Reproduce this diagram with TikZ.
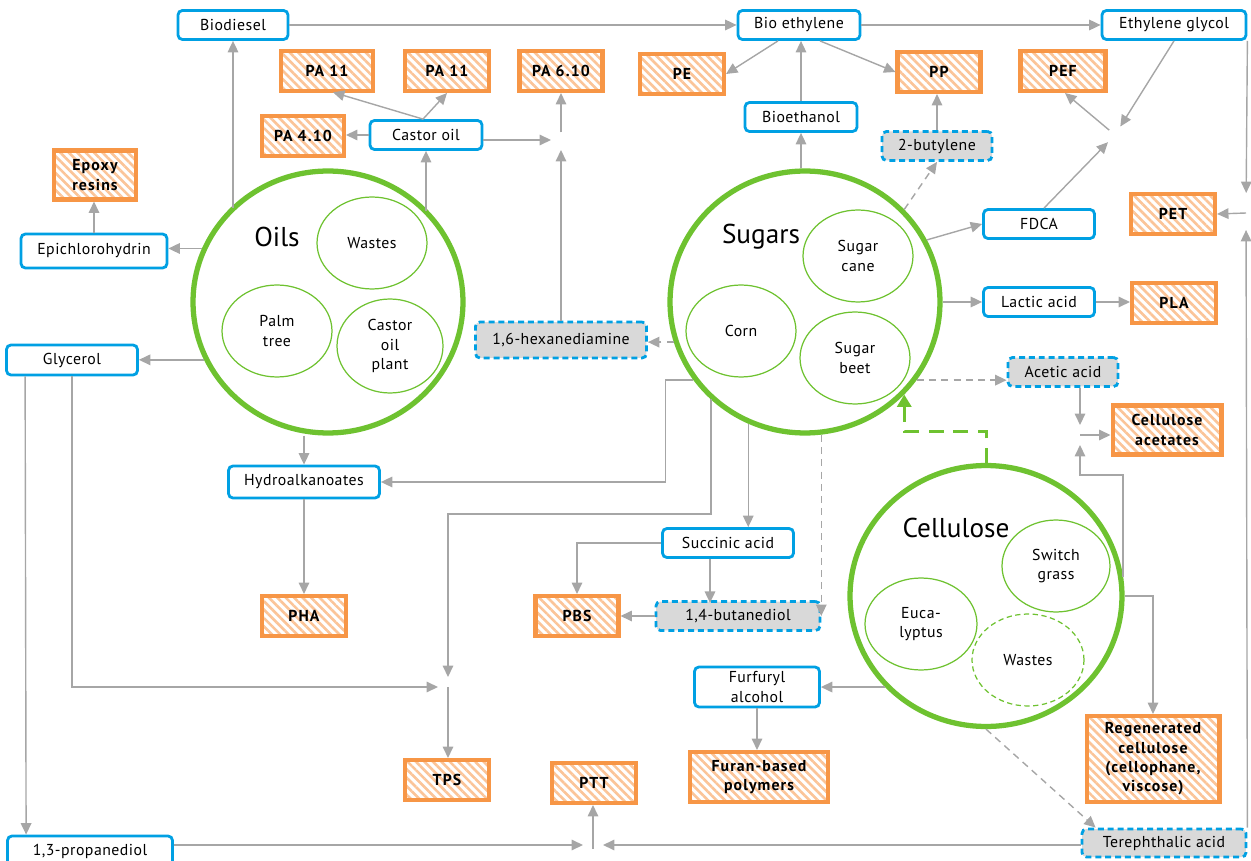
\documentclass[tikz,border=0pt]{standalone}
\usepackage{fontspec}
\setmainfont{PT Sans}
\usetikzlibrary{arrows.meta}
\usetikzlibrary{calc}
\usetikzlibrary{shapes.geometric}
\usetikzlibrary{patterns.meta}
\definecolor{boxblue}{RGB}{0,160,227}
\definecolor{boxorange}{RGB}{247,150,70}
\definecolor{hatchorange}{RGB}{251,196,152}
\definecolor{srcgreen}{RGB}{110,194,48}
\definecolor{flowgray}{RGB}{166,166,166}
\definecolor{fillgray}{RGB}{217,217,217}
\newcommand{\boxfont}{\fontsize{9}{11}\selectfont\addfontfeature{LetterSpace=3}}
\newcommand{\polyfont}{\fontsize{9}{11}\selectfont\bfseries\addfontfeature{LetterSpace=7}}
\newcommand{\srcfont}{\fontsize{15.5}{18}\selectfont}
\tikzset{
% Box styles: intermediates (blue), uncertain ones (dashed) and polymers (hatched orange)
blue box/.style={draw=boxblue,line width=1.6pt,rounded corners=2.5pt,fill=white,minimum height=0.58cm,inner sep=1pt,align=center,font=\boxfont},
dashed box/.style={blue box,fill=fillgray,dash pattern=on 3.4pt off 2.2pt},
orange box/.style={draw=boxorange,line width=2.3pt,pattern={Lines[angle=-45,distance=3.4pt,line width=1.5pt]},pattern color=hatchorange,minimum height=0.8cm,inner sep=1pt,align=center,font=\polyfont},
% Raw materials: big rings and the crops inside them
source ring/.style={ellipse,draw=srcgreen,line width=3pt,inner sep=0,minimum width=5.4cm,minimum height=5.24cm},
crop oval/.style={ellipse,draw=srcgreen,line width=0.7pt,inner sep=0,minimum width=2.2cm,minimum height=1.84cm,align=center,font=\boxfont},
source label/.style={font=\srcfont,inner sep=1pt},
% Connectors
flow/.style={draw=flowgray,line width=0.8pt,-{Triangle[length=6.5pt,width=6pt]}},
dashed flow/.style={dash pattern=on 4pt off 3pt},
green flow/.style={draw=srcgreen,line width=1.7pt,dash pattern=on 8.5pt off 5.5pt,-{Triangle[length=7pt,width=8pt]}},
to junction/.style={shorten >=0.2cm},
from junction/.style={shorten <=0.15cm}
}

\begin{document}
\begin{tikzpicture}[x=0.02cm,y=-0.02cm]
		\useasboundingbox(0,0)rectangle(1251,861);
		% Sources
		\node(oils)[source ring]at(328,302){};
		\node(sugars)[source ring]at(805,302){};
		\node(cellulose)[source ring,minimum width=5.44cm,minimum height=5.22cm]at(986,596){};
		\node(oilslbl)[source label]at(277,237){Oils};
		\node(sugarslbl)[source label]at(761,237){Sugars};
		\node(celllbl)[source label]at(956,528){Cellulose};
		\node(owastes)[crop oval]at(372,243){Wastes};
		\node(palm)[crop oval]at(277,331){Palm\\tree};
		\node(castorplant)[crop oval,minimum width=2.12cm,minimum height=1.88cm]at(390,346){Castor\\oil\\plant};
		\node(cane)[crop oval]at(858,256){Sugar\\cane};
		\node(corn)[crop oval]at(741,331){Corn};
		\node(beet)[crop oval]at(855,358){Sugar\\beet};
		\node(switch)[crop oval,minimum width=2.16cm]at(1056,566){Switch\\grass};
		\node(euca)[crop oval,minimum width=2.24cm]at(921,624){Euca-\\lyptus};
		\node(cwastes)[crop oval,minimum width=2.24cm,dash pattern=on 3pt off 2pt]at(1028,660){Wastes};
		% Intermediates
		\node(biodiesel)[blue box,minimum width=2.2cm]at(233,25){Biodiesel};
		\node(bioeth)[blue box,minimum width=2.44cm]at(799,25){Bio ethylene};
		\node(eglycol)[blue box,minimum width=2.88cm]at(1174,25){Ethylene glycol};
		\node(castor)[blue box,minimum width=2.24cm]at(426,135){Castor oil};
		\node(bioethanol)[blue box,minimum width=2.24cm]at(801,117){Bioethanol};
		\node(but2)[dashed box,minimum width=2.2cm]at(937,146){2-butylene};
		\node(epi)[blue box,minimum width=2.92cm,minimum height=0.68cm]at(94,251){Epichlorohydrin};
		\node(fdca)[blue box,minimum width=2.22cm]at(1039,224){FDCA};
		\node(lactic)[blue box,minimum width=2.22cm]at(1039,302){Lactic acid};
		\node(glycerol)[blue box,minimum width=2.62cm,minimum height=0.6cm]at(72,360){Glycerol};
		\node(hexa)[dashed box,minimum width=3.42cm,minimum height=0.72cm]at(561,340){1,6-hexanediamine};
		\node(acetic)[dashed box,minimum width=2.2cm]at(1063,372){Acetic acid};
		\node(hydro)[blue box,minimum width=3.02cm,minimum height=0.64cm]at(304,482){Hydroalkanoates};
		\node(succ)[blue box,minimum width=2.62cm]at(728,543){Succinic acid};
		\node(bdo)[dashed box,minimum width=3.28cm]at(738,616){1,4-butanediol};
		\node(furf)[blue box,minimum width=2.5cm,minimum height=0.8cm]at(757,687){Furfuryl\\alcohol};
		\node(prop)[blue box,minimum width=3.3cm,minimum height=0.6cm]at(90,851){1,3-propanediol};
		\node(tere)[dashed box,minimum width=3.28cm,minimum height=0.56cm]at(1164,843){Terephthalic acid};
		% Polymers
		\node(pa11a)[orange box,minimum width=1.84cm]at(327,71){PA 11};
		\node(pa11b)[orange box,minimum width=1.68cm]at(447,71){PA 11};
		\node(pa610)[orange box,minimum width=1.66cm]at(561,71){PA 6.10};
		\node(pe)[orange box,minimum width=1.68cm]at(682,74){PE};
		\node(pp)[orange box,minimum width=1.66cm]at(939,72){PP};
		\node(pef)[orange box,minimum width=1.7cm]at(1063,71){PEF};
		\node(pa410)[orange box,minimum width=1.64cm]at(303,136){PA 4.10};
		\node(epoxy)[orange box,minimum width=1.64cm,minimum height=0.98cm]at(95,175){Epoxy\\resins};
		\node(pet)[orange box,minimum width=1.68cm]at(1173,214){PET};
		\node(pla)[orange box,minimum width=1.68cm]at(1174,303){PLA};
		\node(cellacet)[orange box,minimum width=2.18cm,minimum height=0.98cm]at(1167,430){Cellulose\\acetates};
		\node(pha)[orange box,minimum width=1.68cm]at(304,616){PHA};
		\node(pbs)[orange box,minimum width=1.66cm]at(577,616){PBS};
		\node(tps)[orange box,minimum width=1.68cm]at(447,780){TPS};
		\node(ptt)[orange box,minimum width=1.68cm]at(594,783){PTT};
		\node(furan)[orange box,minimum width=2.76cm,minimum height=1cm]at(759,777){Furan-based\\polymers};
		\node(regen)[orange box,minimum width=2.66cm,minimum height=1.72cm]at(1153,759){Regenerated\\cellulose\\(cellophane,\\viscose)};
		% Junctions where two flows meet
		\coordinate(j1)at(561,140);
		\coordinate(j2)at(1115,135);
		\coordinate(j3)at(1246,213);
		\coordinate(j4)at(1080,435);
		\coordinate(j5)at(593,845);
		\coordinate(j6)at(448,687);
		% Flows from oils
		\draw[flow](oils.136 -| biodiesel)--(biodiesel.south);
		\draw[flow](oils.157)--(oils.157 -| epi.east);
		\draw[flow](epi.north)--(epi.north |- epoxy.south);
		\draw[flow](oils.42 -| castor)--(castor.south);
		\draw[flow](castor.west)--(castor.west -| pa410.east);
		\draw[flow]($(castor.north)+(-3,0)$)--($(pa11a.south)+(6,0)$);
		\draw[flow]($(castor.north)+(-3,0)$)--(pa11b.south);
		\draw[flow,to junction]($(castor.east)+(0,5)$)--(j1);
		\draw[flow,to junction](hexa.north)--(j1);
		\draw[flow,from junction](j1)--(pa610.south);
		\draw[flow](oils.205)--(oils.205 -| glycerol.east);
		\draw[flow](hydro.north |- oils.south)--(hydro.north);
		\draw[flow]($(glycerol.south west)+(20,0)$)--($(prop.north west)+(20,0)$);
		\draw[flow,to junction](glycerol.south)|-(j6);
		\draw[flow](j6)--(j6 |- tps.north);
		\draw[flow](hydro.south)--(pha.north);
		% Flows from sugars
		\draw[flow](biodiesel)--(bioeth);
		\draw[flow](bioeth)--(eglycol);
		\draw[flow]($(bioeth.south)+(-21,0)$)--(pe.east);
		\draw[flow]($(bioeth.south)+(21,0)$)--(pp.west);
		\draw[flow](bioethanol.north)--(bioethanol.north |- bioeth.south);
		\draw[flow](bioethanol.south |- sugars.north)--(bioethanol.south);
		\draw[flow,dashed flow](sugars.197)--(sugars.197 -| hexa.east);
		\draw[flow,dashed flow](sugars.43)--(but2.south);
		\draw[flow](but2.north)--(but2.north |- pp.south);
		\draw[flow](sugars.27)--(fdca.west);
		\draw[flow,to junction]($(fdca.north)+(5,0)$)--(j2);
		\draw[flow,to junction](eglycol.south)--(j2);
		\draw[flow,from junction](j2)--($(pef.south)+(2,0)$);
		\draw[flow,shorten >=0.4cm](eglycol.south east)--(j3);
		\draw[flow,shorten >=0.34cm](tere.north east)--(j3);
		\draw[flow](j3)--(pet.east);
		\draw[flow](sugars.east)--(lactic.west);
		\draw[flow](lactic.east)--(lactic.east -| pla.west);
		\draw[flow,dashed flow](sugars.-35)--(sugars.-35 -| acetic.west);
		\draw[flow,to junction]($(acetic.south)+(17,0)$)--(j4);
		\draw[flow](j4)--(j4 -| cellacet.west);
		\draw[flow](sugars.215)--++(-28,0)|-(hydro.east);
		\draw[flow,to junction](sugars.226)|-($(j6)+(0,-173)$)--(j6);
		\draw[flow](sugars.245)--(sugars.245 |- succ.north);
		\draw[flow](succ.west)-|(pbs.north);
		\draw[flow]($(succ.south)+(-18,0)$)--++(0,44);
		\draw[flow,dashed flow](sugars.-83)--(sugars.-83 |- bdo.east);
		\draw[flow](bdo.west)--(bdo.west -| pbs.east);
		% Flows from cellulose
		\draw[green flow](cellulose.north)|-($(sugars.-43)+(0,37)$)--(sugars.-43);
		\draw[flow,to junction](cellulose.8)|-($(j4)+(0,40)$)--(j4);
		\draw[flow](cellulose.east)-|(regen.north);
		\draw[flow](cellulose.222)--(cellulose.222 -| furf.east);
		\draw[flow](furf.south)--(furf.south |- furan.north);
		\draw[flow,dashed flow](cellulose.south)--($(tere.north west)+(15,0)$);
		\draw[flow,to junction](j5 -| tere.west)--(j5);
		\draw[flow,to junction](j5 -| prop.east)--(j5);
		\draw[flow]($(j5)+(0,4)$)--(j5 |- ptt.south);
\end{tikzpicture}
\end{document}
